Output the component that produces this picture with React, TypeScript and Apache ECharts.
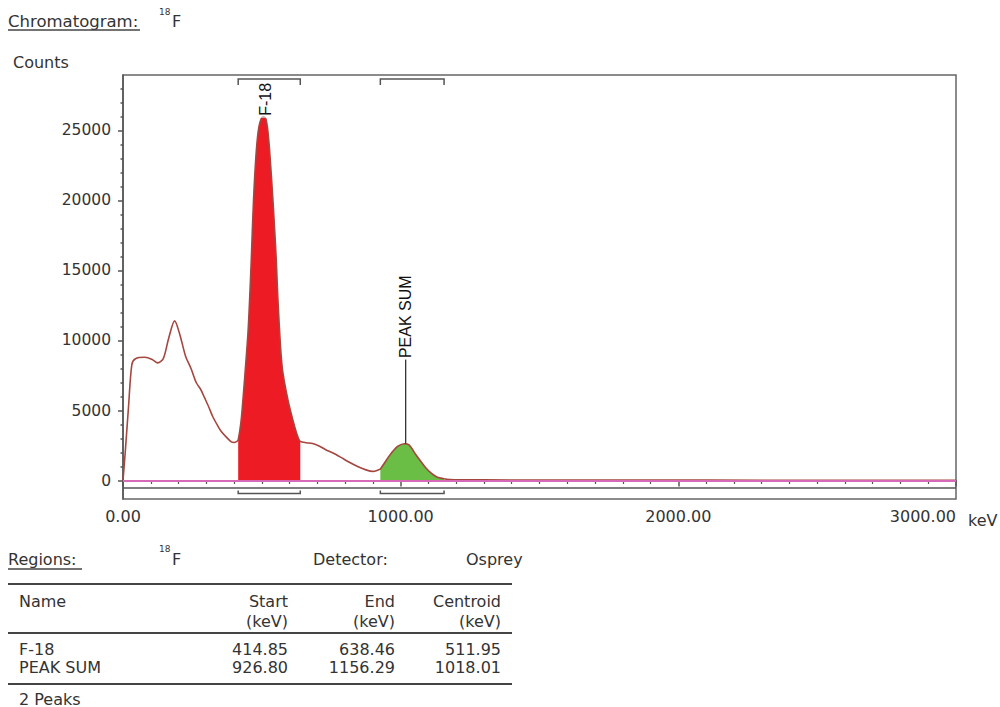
import React, { useEffect, useRef } from "react";
import * as echarts from "echarts";

// Spectrum (energy in keV, counts)
const energyKeV = [
  0, 8, 20, 32, 45, 78, 105, 125, 145, 165, 186, 205, 225, 245, 264, 280, 294, 310, 323, 340,
  354, 372, 390, 400, 410, 414.85, 425, 432, 440, 450, 456, 462, 470, 480, 490, 505, 515, 525,
  540, 552, 558, 573, 594, 618, 630, 638.46, 660, 683, 708, 730, 755, 785, 815, 845, 875, 900,
  923, 926.8, 940, 955, 971, 990, 1013, 1030, 1055, 1075, 1091, 1110, 1127, 1145, 1156.29, 1163,
  1200, 1400, 1800, 2400, 3000,
];
const counts = [
  0, 2000, 5300, 8300, 8700, 8800, 8650, 8400, 8700, 10200, 11400, 10400, 8900, 8000, 6980, 6500,
  5900, 5200, 4570, 3950, 3500, 3100, 2760, 2720, 2800, 2900, 4200, 5760, 7800, 10500, 12900,
  15750, 20000, 23500, 25300, 26000, 25800, 24300, 20000, 15750, 12900, 8140, 5760, 3860, 3100,
  2800, 2700, 2650, 2450, 2200, 1980, 1650, 1300, 1000, 760, 650, 780, 820, 1200, 1650, 2070,
  2450, 2630, 2550, 1840, 1300, 890, 520, 290, 170, 120, 100, 60, 40, 30, 20, 15,
];

// Regions table
const regionNames = ["F-18", "PEAK SUM"];
const regionStart = [414.85, 926.8];
const regionEnd = [638.46, 1156.29];
const regionCentroid = [511.95, 1018.01];
const regionPeakCounts = [26000, 2630];
const regionLabelCounts = [25900, 8600];
const regionColors = ["#ed1c24", "#6abd45"];

// Axis ticks
const xMin = 0;
const xMax = 3000;
const xInterval = 1000;
const yMin = -1320;
const yMax = 28960;
const yLabelValues = [0, 5000, 10000, 15000, 20000, 25000];
const yMinorValues = [
  1000, 2000, 3000, 4000, 6000, 7000, 8000, 9000, 11000, 12000, 13000, 14000, 16000, 17000,
  18000, 19000, 21000, 22000, 23000, 24000, 26000, 27000, 28000,
];
const separatorCounts = -536;

const FONT = '"DejaVu Sans", Verdana, sans-serif';
const TXT = "#333";

export default function App() {
  const ref = useRef<HTMLDivElement>(null);

  useEffect(() => {
    if (!ref.current) return;
    const chart = echarts.init(ref.current, null, { renderer: "svg" });

    const spectrum = energyKeV.map((e, i) => [e, counts[i]]);
    const areaSeries = regionNames.map((n, r) => ({
      type: "line",
      name: n + " area",
      data: spectrum.filter((p) => p[0] >= regionStart[r] && p[0] <= regionEnd[r]),
      smooth: 0.3,
      symbol: "none",
      lineStyle: { width: 0 },
      areaStyle: { color: regionColors[r], opacity: 1, origin: 0 },
      z: 2,
      silent: true,
    }));

    const regionData = regionNames.map((n, i) => ({
      name: n,
      value: [regionStart[i], regionEnd[i], regionCentroid[i], regionPeakCounts[i], regionLabelCounts[i]],
    }));

    const t = (text: string, x: number, y: number, opts: any = {}) => ({
      type: "text",
      x,
      y,
      style: {
        text,
        font: `${opts.size || 16}px ${FONT}`,
        fill: opts.color || TXT,
        align: opts.align || "left",
        verticalAlign: "middle",
      },
    });
    const hl = (x1: number, x2: number, y: number, w = 2, color = "#444") => ({
      type: "line",
      shape: { x1, y1: y, x2, y2: y },
      style: { stroke: color, lineWidth: w },
    });

    const graphics: any[] = [
      t("Chromatogram:", 8, 21, { size: 16.5 }),
      hl(8, 140, 30, 1.5, "#444"),
      t("18", 159, 12, { size: 9 }),
      t("F", 172, 21),
      t("Counts", 13, 62),
      t("keV", 968, 520),
      t("Regions:", 8, 559),
      hl(8, 82, 569, 1.5, "#444"),
      t("18", 159, 549, { size: 9 }),
      t("F", 172, 559),
      t("Detector:", 313, 559),
      t("Osprey", 466, 559),
      hl(8, 512, 584),
      hl(8, 512, 633),
      hl(8, 512, 684),
      t("Name", 19, 601),
      t("Start", 288, 601, { align: "right" }),
      t("End", 395, 601, { align: "right" }),
      t("Centroid", 501, 601, { align: "right" }),
      t("(keV)", 288, 621, { align: "right" }),
      t("(keV)", 395, 621, { align: "right" }),
      t("(keV)", 501, 621, { align: "right" }),
      t(`${regionNames.length} Peaks`, 19, 699),
    ];
    regionNames.forEach((n, i) => {
      const y = 649 + i * 18;
      graphics.push(t(n, 19, y));
      graphics.push(t(regionStart[i].toFixed(2), 288, y, { align: "right" }));
      graphics.push(t(regionEnd[i].toFixed(2), 395, y, { align: "right" }));
      graphics.push(t(regionCentroid[i].toFixed(2), 501, y, { align: "right" }));
    });

    const option: any = {
      animation: false,
      backgroundColor: "#fff",
      grid: {
        left: 123,
        top: 75,
        width: 833,
        height: 424,
        show: true,
        borderColor: "#666",
        borderWidth: 1.5,
        backgroundColor: "transparent",
      },
      xAxis: {
        type: "value",
        min: xMin,
        max: xMax,
        interval: xInterval,
        axisLine: { show: true, lineStyle: { color: "#555", width: 1.5 } },
        axisTick: { show: true, length: 6, lineStyle: { color: "#555", width: 1.5 } },
        minorTick: { show: true, splitNumber: 10, length: 3.5, lineStyle: { color: "#555", width: 1.2 } },
        splitLine: { show: false },
        minorSplitLine: { show: false },
        axisLabel: {
          margin: 9,
          fontSize: 16,
          fontFamily: FONT,
          color: TXT,
          alignMaxLabel: "right",
          formatter: (v: number) => v.toFixed(2),
        },
      },
      yAxis: [
        {
          type: "value",
          min: yMin,
          max: yMax,
          position: "left",
          axisLine: { show: true, lineStyle: { color: "#555", width: 1.5 } },
          axisTick: { show: true, length: 5, customValues: yLabelValues, lineStyle: { color: "#555", width: 1.5 } },
          splitLine: { show: false },
          axisLabel: {
            customValues: yLabelValues,
            margin: 12,
            fontSize: 15.5,
            fontFamily: FONT,
            color: TXT,
            formatter: (v: number) => String(v),
          },
        },
        {
          type: "value",
          min: yMin,
          max: yMax,
          position: "left",
          offset: 0,
          axisLine: { show: false },
          axisTick: { show: true, length: 2.5, customValues: yMinorValues, lineStyle: { color: "#555", width: 1.5 } },
          splitLine: { show: false },
          axisLabel: { show: false },
        },
      ],
      graphic: graphics,
      series: [
        ...areaSeries,
        {
          type: "line",
          name: "baseline",
          data: [],
          markLine: {
            silent: true,
            symbol: "none",
            label: { show: false },
            data: [
              { yAxis: 0, lineStyle: { color: "#d66ab8", width: 2, type: "solid" } },
              { yAxis: separatorCounts, lineStyle: { color: "#555", width: 1.5, type: "solid" } },
            ],
          },
          z: 3,
        },
        {
          type: "line",
          name: "spectrum",
          data: spectrum,
          smooth: 0.3,
          symbol: "none",
          lineStyle: { color: "#a5463f", width: 1.6 },
          z: 4,
          silent: true,
        },
        {
          type: "custom",
          name: "regions",
          coordinateSystem: "cartesian2d",
          clip: false,
          z: 5,
          silent: true,
          encode: { x: [0, 1, 2], y: [3, 4] },
          data: regionData,
          renderItem: (params: any, api: any) => {
            const cs = params.coordSys;
            const xs = api.coord([api.value(0), 0])[0];
            const xe = api.coord([api.value(1), 0])[0];
            const pc = api.coord([api.value(2), api.value(3)]);
            const lc = api.coord([api.value(2), api.value(4)]);
            const top = cs.y + 4;
            const bot = cs.y + cs.height - 5.5;
            const st = { stroke: "#555", lineWidth: 1.5, fill: null };
            const children: any[] = [
              { type: "polyline", shape: { points: [[xs, top + 6], [xs, top], [xe, top], [xe, top + 6]] }, style: st },
              { type: "polyline", shape: { points: [[xs, bot - 3], [xs, bot], [xe, bot], [xe, bot - 3]] }, style: st },
            ];
            if (pc[1] - lc[1] > 4) {
              children.push({
                type: "line",
                shape: { x1: pc[0], y1: lc[1] - 1, x2: pc[0], y2: pc[1] },
                style: { stroke: "#333", lineWidth: 1.3 },
              });
            }
            children.push({
              type: "text",
              x: lc[0],
              y: lc[1],
              rotation: Math.PI / 2,
              style: {
                text: regionNames[params.dataIndex],
                font: '16px "Liberation Sans", Arial, sans-serif',
                fill: "#111",
                align: "left",
                verticalAlign: "middle",
                backgroundColor: "rgba(255,255,255,0.6)",
                padding: [0, 1, 0, 2],
              },
            });
            return { type: "group", children };
          },
        },
      ],
    };

    chart.setOption(option);
    return () => chart.dispose();
  }, []);

  return (
    <div
      ref={ref}
      style={{ position: "absolute", left: 0, top: 0, width: 1000, height: 707, background: "#fff" }}
    />
  );
}
